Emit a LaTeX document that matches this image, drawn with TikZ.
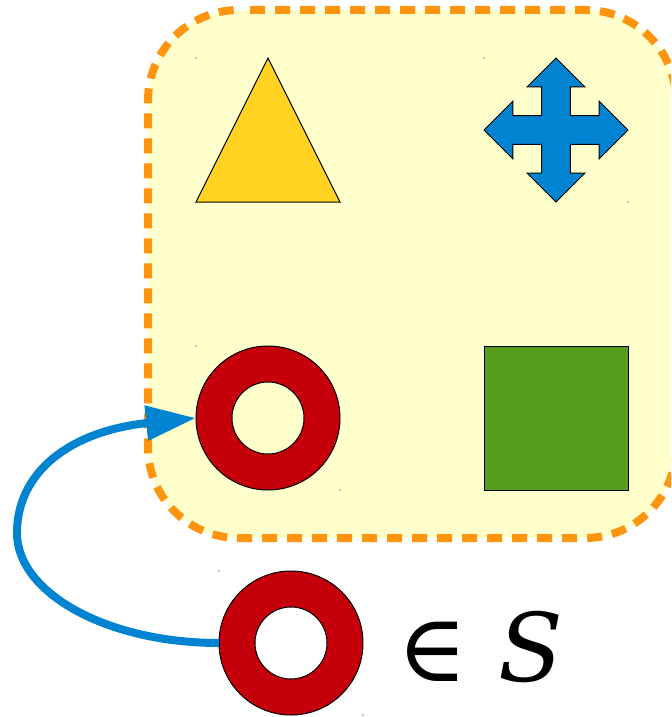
\documentclass[tikz,border=0pt]{standalone}
\usepackage{fontspec}
\newfontfamily\dejaserif{DejaVu Serif}
\usetikzlibrary{
	positioning,
	arrows.meta
}
\definecolor{paleyellow}{HTML}{FFFFCC}
\definecolor{dashorange}{HTML}{FF950E}
\definecolor{triyellow}{HTML}{FFD320}
\definecolor{crossblue}{HTML}{0084D1}
\definecolor{ringred}{HTML}{C5000B}
\definecolor{squaregreen}{HTML}{579D1C}
\tikzset{
	setbox/.style={
		draw=dashorange,fill=paleyellow,line width=6pt,rounded corners=68pt,
		dash pattern=on 11.25pt off 7.5pt,dash phase=11.25pt
	},
	figure/.style={
		draw=black,line width=0.75pt
	},
	ring/.style={
		figure,circle,fill=ringred,minimum size=108pt,inner sep=0pt,outer sep=0pt
	},
	ringhole/.style={
		figure,circle,minimum size=54pt,inner sep=0pt,outer sep=0pt
	},
	member/.style={
		-{Triangle[length=37.5pt,width=25pt]},draw=crossblue,line width=6pt
	}
}

\begin{document}
\begin{tikzpicture}[x=0.75pt,y=-0.75pt]
		\clip (0,0) rectangle (671,717);
		\draw [setbox] (240,10) -- (676,10) -- (676,538) -- (148,538) -- (148,10) -- (240,10);

		\draw [figure,fill=triyellow] (196,202) -- (268,58) -- (340,202) -- cycle;
		\draw [figure,fill=crossblue,shift={(556,130)}]
			(0,-72) -- (28.8,-43.2) -- (14.4,-43.2) -- (14.4,-14.4) -- (43.2,-14.4) -- (43.2,-28.8)
			-- (72,0) -- (43.2,28.8) -- (43.2,14.4) -- (14.4,14.4) -- (14.4,43.2) -- (28.8,43.2)
			-- (0,72) -- (-28.8,43.2) -- (-14.4,43.2) -- (-14.4,14.4) -- (-43.2,14.4) -- (-43.2,28.8)
			-- (-72,0) -- (-43.2,-28.8) -- (-43.2,-14.4) -- (-14.4,-14.4) -- (-14.4,-43.2) -- (-28.8,-43.2)
			-- cycle;

		\node [ring] (ringin) at (268,418) {};
		\node [ringhole,fill=paleyellow] (holein) at (ringin) {};
		\node [figure,fill=squaregreen,minimum size=108pt,inner sep=0pt,outer sep=0pt] (square) at (556,418) {};

		\node [ring] (ringout) at (291,643) {};
		\node [ringhole,fill=white] (holeout) at (ringout) {};

		\node [right=26pt of ringout,inner sep=0pt,font=\fontsize{71}{71}\selectfont\dejaserif,yshift=-3pt] (label) {∈ \textit{S}};

		\coordinate (bend) at (17,533);
		\draw [member] (ringout.west) .. controls (107,643) and (17,593) .. (bend)
			.. controls (17,472) and (70,431) .. (ringin.west);

		% corner specks
		\foreach \x/\y in {196/58,484/58,628/202,196/346,340/490,219/571,363/715} {
			\fill (\x,\y) circle (0.4pt);
		}
	\end{tikzpicture}
\end{document}
